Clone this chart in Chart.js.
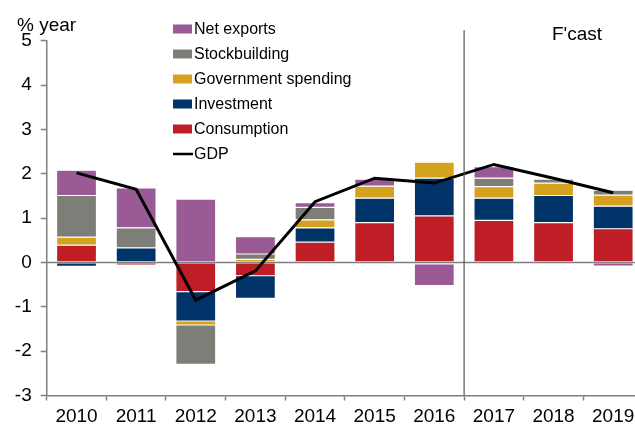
<!DOCTYPE html>
<html>
<head>
<meta charset="utf-8">
<script src="https://cdn.jsdelivr.net/npm/chart.js@4.4.1/dist/chart.umd.min.js"></script>
<style>
  html, body { margin: 0; padding: 0; background: #fff; overflow: hidden; }
  #wrap { position: relative; width: 645px; height: 428px; }
</style>
</head>
<body>
<div id="wrap"><canvas id="c"></canvas></div>
<script>
const years = ['2010','2011','2012','2013','2014','2015','2016','2017','2018','2019'];
const consumption   = [0.39, -0.06, -0.66, -0.30, 0.46, 0.90, 1.05, 0.95, 0.90, 0.76];
const investment    = [-0.09, 0.33, -0.66, -0.51, 0.32, 0.55, 0.85, 0.50, 0.61, 0.51];
const government    = [0.18, 0.00, -0.09, 0.07, 0.18, 0.27, 0.36, 0.26, 0.28, 0.25];
const stockbuilding = [0.94, 0.45, -0.89, 0.12, 0.28, 0.00, -0.03, 0.19, 0.09, 0.11];
const netExports    = [0.57, 0.90, 1.43, 0.39, 0.11, 0.16, -0.49, 0.26, -0.02, -0.08];
const gdp           = [2.02, 1.65, -0.85, -0.19, 1.37, 1.90, 1.79, 2.21, 1.90, 1.57];
const yTicks = [-3, -2, -1, 0, 1, 2, 3, 4, 5];
const forecastStart = 7; // index of first forecast year
const yTitle = '% year';
const forecastLabel = "F'cast";

const COLORS = {
  cons: '#C01E27',
  inv: '#003468',
  gov: '#D4A21E',
  stock: '#7E7E79',
  net: '#9A5A95',
  gdp: '#000000'
};
const FONT = '"Liberation Sans", Arial, sans-serif';
const AXIS = '#7f7f7f';

function barDs(label, data, color) {
  return {
    type: 'bar', label, data, backgroundColor: color,
    borderColor: 'rgba(255,255,255,0.18)', borderWidth: 0.6, borderSkipped: false,
    stack: 'comp', barPercentage: 0.67, categoryPercentage: 1.0, order: 1
  };
}

const legendItems = [
  { label: 'Net exports', color: COLORS.net, kind: 'box' },
  { label: 'Stockbuilding', color: COLORS.stock, kind: 'box' },
  { label: 'Government spending', color: COLORS.gov, kind: 'box' },
  { label: 'Investment', color: COLORS.inv, kind: 'box' },
  { label: 'Consumption', color: COLORS.cons, kind: 'box' },
  { label: 'GDP', color: COLORS.gdp, kind: 'line' }
];

const decor = {
  id: 'decor',
  beforeDatasetDraw(chart, args) {
    if (args.meta.type !== 'line') return;
    const { ctx, chartArea } = chart;
    const y0 = chart.scales.y.getPixelForValue(0);
    ctx.save();
    ctx.strokeStyle = AXIS;
    ctx.lineWidth = 1.5;
    ctx.beginPath();
    ctx.moveTo(chartArea.left, y0);
    ctx.lineTo(chartArea.right, y0);
    ctx.stroke();
    ctx.restore();
  },
  afterDraw(chart) {
    const { ctx, chartArea } = chart;
    const xs = chart.scales.x;
    ctx.save();
    // forecast divider
    const xf = (xs.getPixelForValue(forecastStart - 1) + xs.getPixelForValue(forecastStart)) / 2;
    ctx.strokeStyle = '#555';
    ctx.lineWidth = 1.2;
    ctx.beginPath();
    ctx.moveTo(xf, 30);
    ctx.lineTo(xf, chartArea.bottom);
    ctx.stroke();
    // texts
    ctx.fillStyle = '#000';
    ctx.font = '19px ' + FONT;
    ctx.textBaseline = 'alphabetic';
    ctx.textAlign = 'left';
    ctx.fillText(yTitle, 17, 31);
    ctx.fillText(forecastLabel, 552, 40);
    // legend
    ctx.font = '16px ' + FONT;
    ctx.textBaseline = 'middle';
    legendItems.forEach((it, i) => {
      const cy = 29 + i * 25;
      if (it.kind === 'box') {
        ctx.fillStyle = it.color;
        ctx.fillRect(173, cy - 4.5, 19, 9);
      } else {
        ctx.strokeStyle = it.color;
        ctx.lineWidth = 2.5;
        ctx.beginPath();
        ctx.moveTo(173, cy);
        ctx.lineTo(193, cy);
        ctx.stroke();
      }
      ctx.fillStyle = '#000';
      ctx.fillText(it.label, 194, cy + 0.5);
    });
    ctx.restore();
  }
};

new Chart(document.getElementById('c'), {
  data: {
    labels: years,
    datasets: [
      { type: 'line', label: 'GDP', data: gdp, borderColor: COLORS.gdp, borderWidth: 3,
        pointRadius: 0, tension: 0, fill: false, stack: 'gdp', order: 0 },
      barDs('Consumption', consumption, COLORS.cons),
      barDs('Investment', investment, COLORS.inv),
      barDs('Government spending', government, COLORS.gov),
      barDs('Stockbuilding', stockbuilding, COLORS.stock),
      barDs('Net exports', netExports, COLORS.net)
    ]
  },
  options: {
    responsive: true,
    maintainAspectRatio: false,
    animation: false,
    layout: { padding: { top: 40.7, right: 2, bottom: 0, left: 0 } },
    plugins: { legend: { display: false }, tooltip: { enabled: false } },
    scales: {
      x: {
        stacked: true,
        offset: true,
        grid: { display: true, drawOnChartArea: false, drawTicks: true, tickLength: 5,
                offset: true, color: AXIS, tickColor: AXIS, tickWidth: 1.5 },
        border: { display: true, color: AXIS, width: 1.5 },
        ticks: { color: '#000', font: { family: FONT, size: 19 }, padding: 5, maxRotation: 0, autoSkip: false },
        afterFit(s) { s.height = 32.5; }
      },
      y: {
        stacked: true,
        min: -3, max: 5,
        afterBuildTicks(s) { s.ticks = yTicks.map(v => ({ value: v })); },
        grid: { display: true, drawOnChartArea: false, drawTicks: true, tickLength: 6,
                color: AXIS, tickColor: AXIS, tickWidth: 1.5 },
        border: { display: true, color: AXIS, width: 1.5 },
        ticks: { color: '#000', font: { family: FONT, size: 19 }, padding: 9,
                 callback: v => String(v) },
        afterFit(s) { s.width = 46.7; }
      }
    }
  },
  plugins: [decor]
});
</script>
</body>
</html>
